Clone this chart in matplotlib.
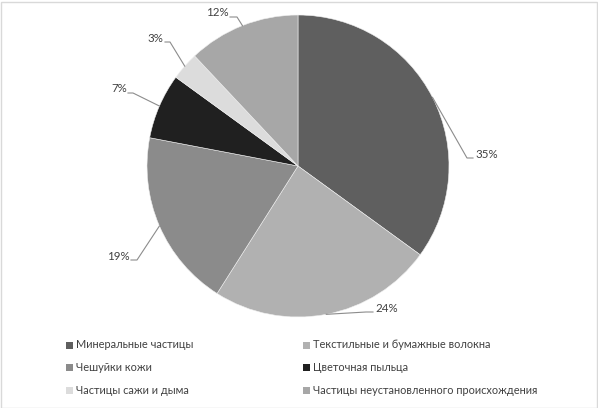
import matplotlib.pyplot as plt
import matplotlib.patches as mpatches
import numpy as np

plt.rcParams['font.family'] = ['Lato', 'DejaVu Sans']

# данные
labels = ['Минеральные частицы', 'Текстильные и бумажные волокна', 'Чешуйки кожи',
          'Цветочная пыльца', 'Частицы сажи и дыма', 'Частицы неустановленного происхождения']
values = [35, 24, 19, 7, 3, 12]
colors = ['#5f5f5f', '#b1b1b1', '#8b8b8b', '#202020', '#dcdcdc', '#a7a7a7']

W, H = 598, 408
fig = plt.figure(figsize=(W / 100, H / 100), dpi=100)

# центр и радиус круга в пикселях
cx, cy, R = 298, 166, 151
ax = fig.add_axes([(cx - R) / W, (H - cy - R) / H, 2 * R / W, 2 * R / H])

wedges, _ = ax.pie(values, colors=colors, startangle=90, counterclock=False,
                   wedgeprops=dict(edgecolor='#f0f0f0', linewidth=0.4))
ax.set_xlim(-1, 1)
ax.set_ylim(-1, 1)
ax.set_aspect('equal')
ax.axis('off')


def px(x, y):
    return (x - cx) / R, (cy - y) / R


# позиции подписей (пиксели): текст, ha, точка изгиба, конец горизонтального отрезка
label_pos = [
    ((475, 154), 'left', (467, 158), (473, 158)),
    ((375, 309), 'left', (366, 312), (373, 312)),
    ((130, 257), 'right', (137, 260), (131, 260)),
    ((127, 89), 'right', (133, 93), (128, 93)),
    ((163, 38), 'right', (170, 42), (165, 42)),
    ((229, 13), 'right', (237, 17), (230, 17)),
]

for w, v, (tp, ha, elbow, end) in zip(wedges, values, label_pos):
    mid = np.deg2rad((w.theta1 + w.theta2) / 2)
    ex, ey = np.cos(mid), np.sin(mid)
    bx, by = px(*elbow)
    nx, ny = px(*end)
    ax.plot([ex, bx, nx], [ey, by, ny], color='#8c8c8c', lw=0.8, clip_on=False)
    tx, ty = px(*tp)
    ax.text(tx, ty, f'{v}%', ha=ha, va='center', fontsize=8.3, color='#404040')

# легенда
for i, (lab, col) in enumerate(zip(labels, colors)):
    x0 = 66 if i % 2 == 0 else 303
    y0 = 345 + 22.5 * (i // 2)
    fig.add_artist(mpatches.Rectangle((x0 / W, (H - y0 - 3.5) / H), 7 / W, 7 / H,
                                      facecolor=col, edgecolor='none',
                                      transform=fig.transFigure))
    fig.text((x0 + 10) / W, (H - y0) / H, lab, ha='left', va='center',
             fontsize=7.9, color='#404040')

# рамка
fig.add_artist(mpatches.Rectangle((0.5 / W, 0.5 / H), (W - 2) / W, (H - 2) / H,
                                  facecolor='none', edgecolor='#d9d9d9', lw=1,
                                  transform=fig.transFigure))

fig.savefig('out.png', dpi=100)
